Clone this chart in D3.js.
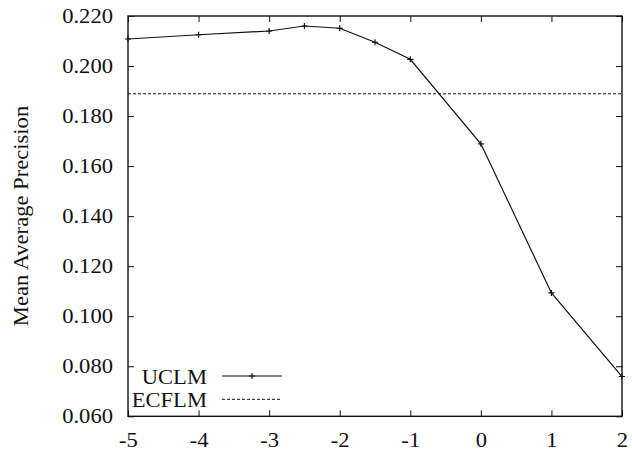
<!DOCTYPE html>
<html>
<head>
<meta charset="utf-8">
<script src="https://cdn.jsdelivr.net/npm/d3@7"></script>
<style>
  html, body { margin: 0; padding: 0; background: #fff; }
  svg text { font-family: "Liberation Serif", "Times New Roman", serif; fill: #111; }
</style>
</head>
<body>
<svg id="chart" width="632" height="452"></svg>
<script>
// Offset values on the x axis
const offsets = [-5, -4, -3, -2.5, -2, -1.5, -1, 0, 1, 2];
// Mean average precision of UCLM at each offset
const uclm = [0.2108, 0.2125, 0.2140, 0.2160, 0.2151, 0.2095, 0.2027, 0.1689, 0.1093, 0.0759];
// ECFLM baseline (constant)
const ecflm = 0.1889;
// Tick values
const xTicks = [-5, -4, -3, -2, -1, 0, 1, 2];
const yTicks = [0.06, 0.08, 0.10, 0.12, 0.14, 0.16, 0.18, 0.20, 0.22];
const seriesNames = ["UCLM", "ECFLM"];

const W = 632, H = 452;
const plot = { left: 128, right: 622, top: 16, bottom: 416.3 };
const FS = 20, SX = 1.13;   // font size and horizontal glyph stretch

const svg = d3.select("#chart");
const x = d3.scaleLinear().domain([-5, 2]).range([plot.left, plot.right]);
const y = d3.scaleLinear().domain([0.06, 0.22]).range([plot.bottom, plot.top]);

const stroke = "#111";

// Inward ticks on all four sides
function styleAxis(g) {
  g.select(".domain").remove();
  g.selectAll(".tick line").attr("stroke", stroke).attr("stroke-width", 1);
  g.selectAll("text").attr("font-size", FS).attr("fill", "#111");
}

const gLeft = svg.append("g").attr("transform", `translate(${plot.left},0)`)
  .call(d3.axisLeft(y).tickValues(yTicks).tickFormat(d3.format(".3f")).tickSize(-6).tickSizeOuter(0));
styleAxis(gLeft);
gLeft.selectAll("text").attr("x", null).attr("dy", "0.3em")
  .attr("text-anchor", "end")
  .attr("transform", `translate(-15,0) scale(${SX},1)`);

const gRight = svg.append("g").attr("transform", `translate(${plot.right},0)`)
  .call(d3.axisRight(y).tickValues(yTicks).tickSize(-6).tickSizeOuter(0));
styleAxis(gRight);
gRight.selectAll("text").remove();

const gBottom = svg.append("g").attr("transform", `translate(0,${plot.bottom})`)
  .call(d3.axisBottom(x).tickValues(xTicks).tickFormat(d => String(d)).tickSize(-6).tickSizeOuter(0));
styleAxis(gBottom);
gBottom.selectAll("text").attr("y", null).attr("dy", null)
  .attr("text-anchor", "middle")
  .attr("transform", `translate(0,31) scale(${SX},1)`);

const gTop = svg.append("g").attr("transform", `translate(0,${plot.top})`)
  .call(d3.axisTop(x).tickValues(xTicks).tickSize(-6).tickSizeOuter(0));
styleAxis(gTop);
gTop.selectAll("text").remove();

// Plot frame
svg.append("rect")
  .attr("x", plot.left).attr("y", plot.top)
  .attr("width", plot.right - plot.left).attr("height", plot.bottom - plot.top)
  .attr("fill", "none").attr("stroke", stroke).attr("stroke-width", 1.4);

// ECFLM dashed baseline
svg.append("line")
  .attr("x1", x(-5)).attr("x2", x(2))
  .attr("y1", y(ecflm)).attr("y2", y(ecflm))
  .attr("stroke", stroke).attr("stroke-width", 1).attr("stroke-dasharray", "3,2");

// UCLM line with plus markers
const pts = offsets.map((o, i) => [o, uclm[i]]);
svg.append("path")
  .datum(pts)
  .attr("fill", "none").attr("stroke", stroke).attr("stroke-width", 1.2)
  .attr("d", d3.line().x(d => x(d[0])).y(d => y(d[1])));

function plus(g, cx, cy) {
  g.append("path")
    .attr("d", `M${cx - 3},${cy}H${cx + 3}M${cx},${cy - 3}V${cy + 3}`)
    .attr("stroke", stroke).attr("stroke-width", 1.2).attr("fill", "none");
}
const markers = svg.append("g");
pts.forEach(d => plus(markers, x(d[0]), y(d[1])));

// Legend
const legend = svg.append("g");
const rows = [376, 399.3];
seriesNames.forEach((name, i) => {
  legend.append("text")
    .attr("text-anchor", "end").attr("font-size", FS)
    .attr("transform", `translate(207,${rows[i] + 8}) scale(${SX},1)`)
    .text(name);
  const ln = legend.append("line")
    .attr("x1", 222).attr("x2", 282)
    .attr("y1", rows[i]).attr("y2", rows[i])
    .attr("stroke", stroke);
  if (i === 0) {
    ln.attr("stroke-width", 1.2);
    plus(legend, 252, rows[i]);
  } else {
    ln.attr("stroke-width", 1).attr("stroke-dasharray", "3,2");
  }
});

// Y axis title
svg.append("text")
  .attr("text-anchor", "middle").attr("font-size", FS)
  .attr("transform", `translate(28,216) rotate(-90) scale(${SX},1)`)
  .text("Mean Average Precision");
</script>
</body>
</html>
